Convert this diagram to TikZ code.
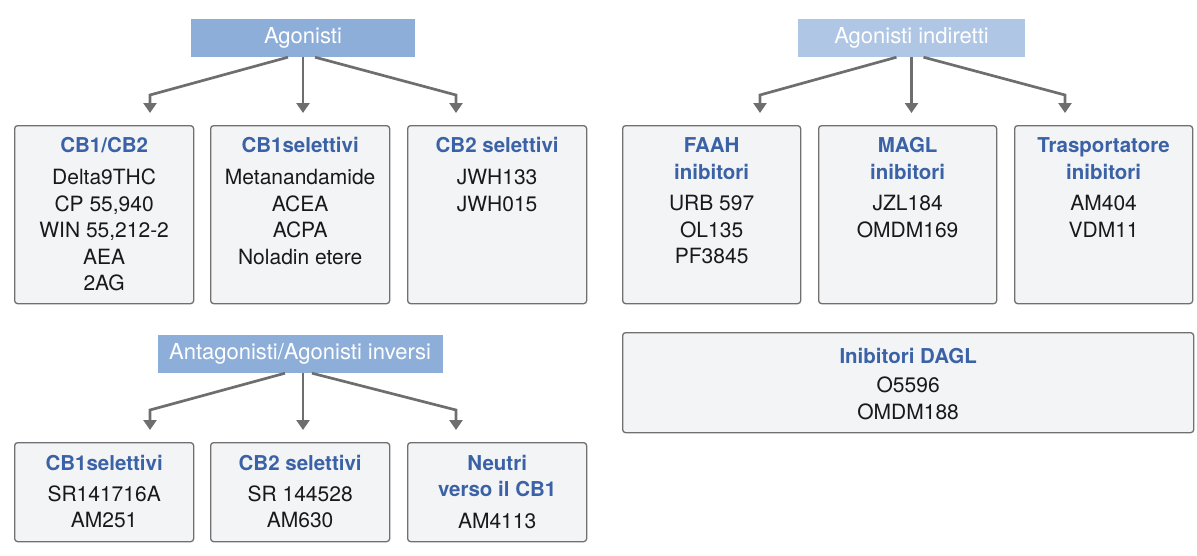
\documentclass[tikz,border=0pt]{standalone}
\usepackage{fontspec}
\setmainfont{TeX Gyre Heros}
\usetikzlibrary{arrows.meta,positioning}

\definecolor{headfill}{HTML}{8DAED8}
\definecolor{titleblue}{HTML}{3B62A6}
\definecolor{boxfill}{HTML}{F3F4F5}
\definecolor{boxline}{HTML}{707070}
\definecolor{arrowgray}{HTML}{6E6E6E}

\newcommand{\grp}[1]{{\color{titleblue}\fontsize{20.5}{26.5}\selectfont\bfseries #1}}

\tikzset{
	head/.style={fill=headfill,text=white,minimum height=38pt,inner sep=0pt,font=\fontsize{22}{24}\selectfont},
	class/.style={draw=boxline,fill=boxfill,rounded corners=3pt,line width=1.3pt,anchor=north west,inner sep=0pt},
	list/.style={align=center,anchor=north,inner sep=0pt,text=black!90,font=\fontsize{21}{26.5}\selectfont},
	arr/.style={draw=arrowgray,line width=2.7pt,-{Triangle[width=13pt,length=10pt]},shorten >=12pt}
}

\begin{document}
\begin{tikzpicture}[x=1pt,y=-1pt]
		\useasboundingbox (0,0) rectangle (1197,555);

		% agonisti
		\node[head,minimum width=224pt] (agon) at (303,38) {Agonisti};
		\node[class,minimum width=179pt,minimum height=178pt] (cbmix) at (14,125) {};
		\node[class,minimum width=179pt,minimum height=178pt] (cbone) at (210,125) {};
		\node[class,minimum width=179pt,minimum height=178pt] (cbtwo) at (407,125) {};

		\node[list] at ([yshift=-12.5pt]cbmix.north) {\grp{CB1/CB2}\\[5.5pt]Delta9THC\\CP 55,940\\WIN 55,212-2\\AEA\\2AG};
		\node[list] at ([yshift=-12.5pt]cbone.north) {\grp{CB1selettivi}\\[5.5pt]Metanandamide\\ACEA\\ACPA\\Noladin etere};
		\node[list] at ([yshift=-12.5pt]cbtwo.north) {\grp{CB2 selettivi}\\[5.5pt]JWH133\\JWH015};

		\coordinate (ka) at (150,95);
		\coordinate (kb) at (303,95);
		\coordinate (kc) at (456,95);
		\foreach \dx/\k/\c in {-15/ka/cbmix, 0/kb/cbone, 12/kc/cbtwo}
			{\draw[arr] ([xshift=\dx pt]agon.south) -- (\k) -- (\k |- \c.north);}

		% agonisti indiretti
		\node[head,fill=headfill!70,minimum width=227pt] (indir) at (911.5,38) {Agonisti indiretti};
		\node[class,minimum width=178pt,minimum height=178pt] (faah) at (622,125) {};
		\node[class,minimum width=178pt,minimum height=178pt] (magl) at (818,125) {};
		\node[class,minimum width=178pt,minimum height=178pt] (trasp) at (1014,125) {};

		\node[list] at ([yshift=-12.5pt]faah.north) {\grp{FAAH}\\\grp{inibitori}\\[5pt]URB 597\\OL135\\PF3845};
		\node[list] at ([yshift=-12.5pt]magl.north) {\grp{MAGL}\\\grp{inibitori}\\[5pt]JZL184\\OMDM169};
		\node[list] at ([yshift=-12.5pt]trasp.north) {\grp{Trasportatore}\\\grp{inibitori}\\[5pt]AM404\\VDM11};

		\coordinate (kd) at (760,95);
		\coordinate (ke) at (911.5,95);
		\coordinate (kf) at (1065,95);
		\foreach \dx/\k/\c in {-15/kd/faah, 0/ke/magl, 12/kf/trasp}
			{\draw[arr] ([xshift=\dx pt]indir.south) -- (\k) -- (\k |- \c.north);}

		\node[class,minimum width=571pt,minimum height=100pt] (dagl) at (622,332) {};
		\node[list] at ([yshift=-16pt]dagl.north) {\grp{Inibitori DAGL}\\[3pt]O5596\\OMDM188};

		% antagonisti
		\node[head,minimum width=285pt] (antag) at (300,354) {Antagonisti/Agonisti inversi};
		\node[class,minimum width=179pt,minimum height=99pt] (antone) at (14,442) {};
		\node[class,minimum width=179pt,minimum height=99pt] (anttwo) at (210,442) {};
		\node[class,minimum width=179pt,minimum height=99pt] (neutri) at (407,442) {};

		\node[list] at ([yshift=-13pt]antone.north) {\grp{CB1selettivi}\\[4.5pt]SR141716A\\AM251};
		\node[list] at ([yshift=-13pt]anttwo.north) {\grp{CB2 selettivi}\\[4.5pt]SR 144528\\AM630};
		\node[list] at ([yshift=-13pt]neutri.north) {\grp{Neutri}\\\grp{verso il CB1}\\[5pt]AM4113};

		\coordinate (kg) at (150,410);
		\coordinate (kh) at (303,410);
		\coordinate (ki) at (456,410);
		\foreach \dx/\k/\c in {-15/kg/antone, 3/kh/anttwo, 12/ki/neutri}
			{\draw[arr] ([xshift=\dx pt]antag.south) -- (\k) -- (\k |- \c.north);}
	\end{tikzpicture}
\end{document}
